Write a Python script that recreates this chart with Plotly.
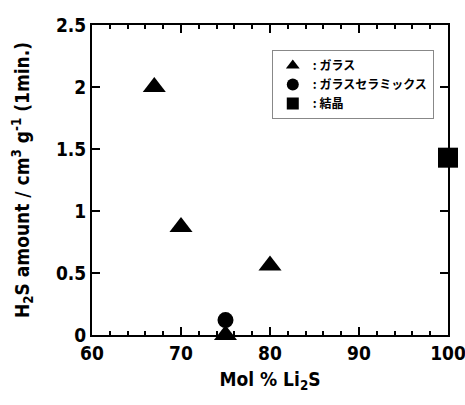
import plotly.graph_objects as go

glass_x = [67, 70, 75, 80]
glass_y = [2.0, 0.87, 0.0, 0.56]
gc_x = [75]
gc_y = [0.12]
cryst_x = [100]
cryst_y = [1.43]

labels = [": ガラス", ": ガラスセラミックス", ": 結晶"]
x_range = [60, 100]
y_range = [0, 2.5]
x_ticks = [60, 70, 80, 90, 100]
y_ticks = [0, 0.5, 1, 1.5, 2, 2.5]
y_tick_text = ["0", "0.5", "1", "1.5", "2", "2.5"]

FONT = "DejaVu Sans Condensed, Liberation Sans Narrow, Arial, sans-serif"

fig = go.Figure()
fig.add_trace(go.Scatter(x=glass_x, y=glass_y, mode="markers", name="<b>" + labels[0] + "</b>",
                         marker=dict(symbol="triangle-up", size=20, color="black"), cliponaxis=False))
fig.add_trace(go.Scatter(x=gc_x, y=gc_y, mode="markers", name="<b>" + labels[1] + "</b>",
                         marker=dict(symbol="circle", size=16, color="black"), cliponaxis=False))
fig.add_trace(go.Scatter(x=cryst_x, y=cryst_y, mode="markers", name="<b>" + labels[2] + "</b>",
                         marker=dict(symbol="square", size=20, color="black"), cliponaxis=False))

fig.update_layout(
    width=465, height=405,
    margin=dict(l=92, r=17, t=25, b=70, autoexpand=False),
    plot_bgcolor="white", paper_bgcolor="white",
    showlegend=True,
    legend=dict(x=0.505, y=0.919, xanchor="left", yanchor="top",
                bordercolor="#888888", borderwidth=1, bgcolor="white",
                font=dict(family="Noto Sans CJK JP, sans-serif", size=12, color="black"),
                itemsizing="constant", tracegroupgap=0, itemwidth=30),
)
fig.update_xaxes(range=x_range, tickmode="array", tickvals=x_ticks,
                 ticktext=["<b>%d</b>" % v for v in x_ticks],
                 showgrid=False, zeroline=False, showline=True, linecolor="black", linewidth=2,
                 mirror="ticks", ticks="inside", ticklen=8, tickwidth=2, tickcolor="black",
                 ticklabeloverflow="allow", automargin=False,
                 tickfont=dict(family=FONT, size=19, color="black"),
                 minor=dict(tickmode="linear", tick0=60, dtick=2, ticks="inside", ticklen=4,
                            tickcolor="black", tickwidth=1.5, showgrid=False),
                 title=dict(text="<b>Mol % Li<sub>2</sub>S</b>", standoff=10,
                            font=dict(family=FONT, size=19, color="black")))
fig.update_yaxes(range=y_range, tickmode="array", tickvals=y_ticks,
                 ticktext=["<b>%s</b>" % t for t in y_tick_text],
                 showgrid=False, zeroline=False, showline=True, linecolor="black", linewidth=2,
                 mirror="ticks", ticks="inside", ticklen=8, tickwidth=2, tickcolor="black",
                 automargin=False,
                 tickfont=dict(family=FONT, size=19, color="black"),
                 title=dict(text="<b>H<sub>2</sub>S amount / cm<sup>3</sup> g<sup>-1</sup> (1min.)</b>", standoff=21,
                            font=dict(family=FONT, size=19, color="black")))

fig.write_html("out.html")
